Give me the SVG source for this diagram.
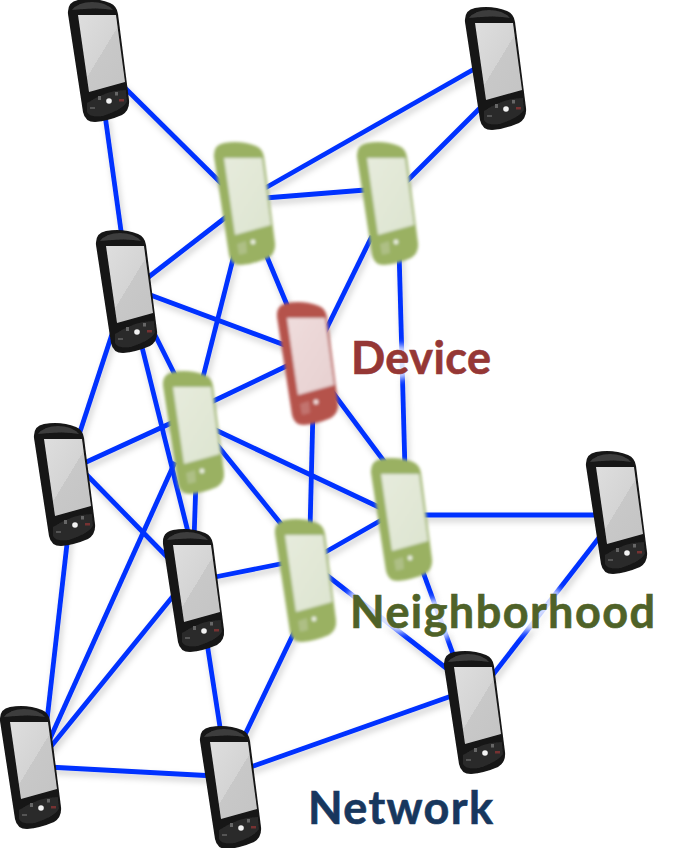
<svg xmlns="http://www.w3.org/2000/svg" xmlns:xlink="http://www.w3.org/1999/xlink" width="673" height="848" viewBox="0 0 673 848">
<style>
.edge{stroke:#0030ff;stroke-width:4.8;fill:none;stroke-linecap:butt}
.lbl{font-family:Lato,"Liberation Sans",sans-serif;font-weight:700;font-size:45px;stroke-width:.6px}
.halo{fill:#fff;stroke:#fff;stroke-width:10px;stroke-linejoin:round;opacity:.85;filter:url(#soft)}
</style>
<defs>
<filter id="shadow" x="-5%" y="-5%" width="110%" height="110%"><feDropShadow dx="2" dy="4" stdDeviation="3" flood-color="#000" flood-opacity=".2"/></filter>
<filter id="blur" x="-15%" y="-15%" width="130%" height="130%"><feGaussianBlur stdDeviation="1.4"/></filter>
<filter id="soft" x="-15%" y="-30%" width="130%" height="160%"><feGaussianBlur stdDeviation="3.5"/></filter>
<filter id="b1" x="-15%" y="-15%" width="130%" height="130%"><feGaussianBlur stdDeviation=".5"/></filter>
<linearGradient id="scr" x1="0" y1="0" x2="1" y2="1"><stop offset="0" stop-color="#dedede"/><stop offset=".5" stop-color="#d4d4d4"/><stop offset=".5" stop-color="#c8c8c8"/><stop offset="1" stop-color="#c4c4c4"/></linearGradient>
<linearGradient id="gscr" x1="0" y1="0" x2="1" y2="1"><stop offset="0" stop-color="#e6ebdc"/><stop offset="1" stop-color="#dde4d0"/></linearGradient>
<linearGradient id="rscr" x1="0" y1="0" x2="1" y2="1"><stop offset="0" stop-color="#efdcdc"/><stop offset="1" stop-color="#e6d0d0"/></linearGradient>
<path id="body" d="M-30-46Q-31-58-20-60Q-3-63 12-57Q19-54 20-46L31 40Q32 50 24 55Q10 61-3 62Q-13 62-15 52Z"/>
<path id="screen" d="M-20-45L18-45L27 22L-9 32Z"/>
<g id="phone-black" filter="url(#b1)">
<use xlink:href="#body" href="#body" fill="#141414"/>
<path d="M-26-50Q-20-58-6-58Q8-58 15-50Q0-53-26-50Z" fill="#3c3c3c"/>
<use xlink:href="#screen" href="#screen" fill="url(#scr)"/>
<path d="M-11 43Q8 30 28 30L29 42Q24 50 5 56Q-8 58-11 52Z" fill="#2a2a2a"/>
<circle cx="11" cy="41" r="2.8" fill="#f2f2f2"/>
<rect x="0" y="36" width="3" height="4" fill="#666"/>
<rect x="17" y="32" width="3" height="3.5" fill="#666"/>
<rect x="-8" y="47" width="5" height="2" fill="#555"/>
<rect x="21" y="39" width="5" height="2.5" fill="#733"/>
</g>
<g id="phone-green" filter="url(#blur)">
<use xlink:href="#body" href="#body" fill="#9ab162"/>
<use xlink:href="#screen" href="#screen" fill="url(#gscr)"/>
<circle cx="9" cy="39" r="2.4" fill="#eef2e4"/>
<path d="M-7 41L2 38L3 50L-5 52Z" fill="#aebf85"/>
</g>
<g id="phone-red" filter="url(#blur)">
<use xlink:href="#body" href="#body" fill="#b5524c"/>
<use xlink:href="#screen" href="#screen" fill="url(#rscr)"/>
<circle cx="9" cy="39" r="2.4" fill="#f5e4e2"/>
<path d="M-7 41L2 38L3 50L-5 52Z" fill="#c2736e"/>
</g>
</defs>
<rect width="673" height="848" fill="#fff"/>
<g id="connectors" filter="url(#shadow)">
<path class="edge" d="M122 85L222 184"/>
<path class="edge" d="M105 115L122 238"/>
<path class="edge" d="M476 68L260 191"/>
<path class="edge" d="M482 106L404 184"/>
<path class="edge" d="M265 198L365 190"/>
<path class="edge" d="M230 214L146 279"/>
<path class="edge" d="M234 255L201 385"/>
<path class="edge" d="M262 245L290 312"/>
<path class="edge" d="M372 236L318 346"/>
<path class="edge" d="M399 250L405 470"/>
<path class="edge" d="M145 293L290 347"/>
<path class="edge" d="M145 315L180 385"/>
<path class="edge" d="M139 335L190 540"/>
<path class="edge" d="M116 322L75 447"/>
<path class="edge" d="M82 464L180 419"/>
<path class="edge" d="M82 470L175 565"/>
<path class="edge" d="M68 535L47 720"/>
<path class="edge" d="M175 462L44 752"/>
<path class="edge" d="M178 590L44 755"/>
<path class="edge" d="M48 767L215 776"/>
<path class="edge" d="M196 480L194 540"/>
<path class="edge" d="M210 578L290 562"/>
<path class="edge" d="M205 630L222 740"/>
<path class="edge" d="M300 620L240 745"/>
<path class="edge" d="M245 769L460 693"/>
<path class="edge" d="M205 405L295 362"/>
<path class="edge" d="M205 425L385 510"/>
<path class="edge" d="M205 430L290 535"/>
<path class="edge" d="M313 410L310 530"/>
<path class="edge" d="M325 382L392 472"/>
<path class="edge" d="M315 558L385 518"/>
<path class="edge" d="M420 515L600 515"/>
<path class="edge" d="M320 570L455 675"/>
<path class="edge" d="M415 550L457 665"/>
<path class="edge" d="M485 685L605 530"/>
</g>
<g id="label-halos">
<text class="lbl halo" x="351" y="374" textLength="140">Device</text>
<text class="lbl halo" x="350" y="628" textLength="305">Neighborhood</text>
</g>
<g id="node-1"><use xlink:href="#phone-black" href="#phone-black" x="98" y="60"/></g>
<g id="node-2"><use xlink:href="#phone-black" href="#phone-black" x="495" y="68"/></g>
<g id="node-3"><use xlink:href="#phone-black" href="#phone-black" x="126" y="291"/></g>
<g id="node-4"><use xlink:href="#phone-black" href="#phone-black" x="64" y="484"/></g>
<g id="node-5"><use xlink:href="#phone-black" href="#phone-black" x="193" y="590"/></g>
<g id="node-6"><use xlink:href="#phone-black" href="#phone-black" x="30" y="767"/></g>
<g id="node-7"><use xlink:href="#phone-black" href="#phone-black" x="230" y="787"/></g>
<g id="node-8"><use xlink:href="#phone-black" href="#phone-black" x="474" y="712"/></g>
<g id="node-9"><use xlink:href="#phone-black" href="#phone-black" x="616" y="512"/></g>
<g id="node-a"><use xlink:href="#phone-green" href="#phone-green" x="244" y="203"/></g>
<g id="node-b"><use xlink:href="#phone-green" href="#phone-green" x="387" y="203"/></g>
<g id="node-c"><use xlink:href="#phone-green" href="#phone-green" x="193" y="432"/></g>
<g id="node-d"><use xlink:href="#phone-green" href="#phone-green" x="305" y="580"/></g>
<g id="node-e"><use xlink:href="#phone-green" href="#phone-green" x="401" y="519"/></g>
<g id="node-device"><use xlink:href="#phone-red" href="#phone-red" x="307" y="363"/></g>
<g id="labels">
<text class="lbl" x="351" y="374" textLength="140" fill="#953735" stroke="#953735">Device</text>
<text class="lbl" x="350" y="628" textLength="305" fill="#4f6228" stroke="#4f6228">Neighborhood</text>
<text class="lbl" x="308" y="824" textLength="185" fill="#17375e" stroke="#17375e">Network</text>
</g>
</svg>
